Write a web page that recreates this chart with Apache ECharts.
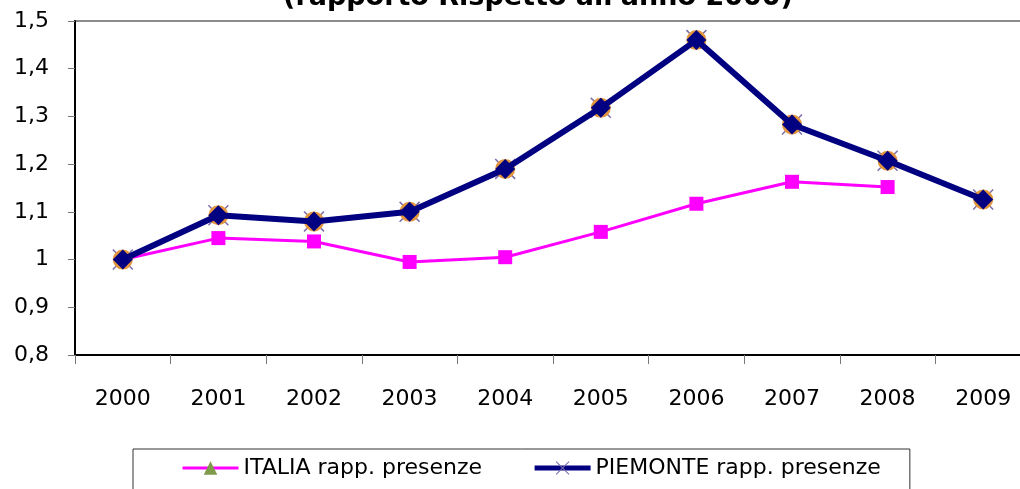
<!DOCTYPE html>
<html>
<head>
<meta charset="utf-8">
<script src="https://cdn.jsdelivr.net/npm/echarts@6/dist/echarts.min.js"></script>
<style>
html,body{margin:0;padding:0;background:#fff;}
#chart{width:1020px;height:489px;}
</style>
</head>
<body>
<div id="chart"></div>
<script>
// ---- data ----
var years = ['2000','2001','2002','2003','2004','2005','2006','2007','2008','2009'];
var italia = [1.0, 1.045, 1.038, 0.995, 1.005, 1.058, 1.117, 1.163, 1.152, null];
var piemonte = [1.0, 1.093, 1.080, 1.100, 1.190, 1.318, 1.460, 1.283, 1.207, 1.126];
var yTicks = {min: 0.8, max: 1.5, interval: 0.1};
var titleText = "(rapporto Rispetto all'anno 2000)";
var nameItalia = 'ITALIA rapp. presenze';
var namePiemonte = 'PIEMONTE rapp. presenze';

var FONT = 'DejaVu Sans';
var xPath = 'path://M0,1L1,0L10,9L19,0L20,1L11,10L20,19L19,20L10,11L1,20L0,19L9,10Z';

var chart = echarts.init(document.getElementById('chart'), null, {renderer: 'canvas'});
chart.setOption({
  animation: false,
  backgroundColor: '#ffffff',
  title: {
    text: titleText,
    left: 538, textAlign: 'center',
    top: -16, padding: 0,
    textStyle: {fontFamily: FONT, fontWeight: 'bold', fontSize: 27, color: '#000'}
  },
  grid: {
    left: 75, top: 21, bottom: 134, right: -11,
    show: true, borderColor: '#8c8c8c', borderWidth: 2,
    containLabel: false, outerBoundsMode: 'none'
  },
  legend: {
    data: [
      {name: nameItalia, lineStyle: {width: 3, color: '#FF00FF'}},
      {name: namePiemonte, lineStyle: {width: 5, color: '#000080'}}
    ],
    left: 133, top: 449,
    padding: [6, 29, 40, 48],
    itemWidth: 56, itemHeight: 17, itemGap: 50,
    borderColor: '#333', borderWidth: 1,
    textStyle: {fontFamily: FONT, fontSize: 22, color: '#000', lineHeight: 26},
    selectedMode: false
  },
  xAxis: {
    type: 'category',
    data: years,
    boundaryGap: true,
    axisLine: {lineStyle: {color: '#000', width: 2}},
    axisTick: {show: true, alignWithLabel: false, length: 9, lineStyle: {color: '#777', width: 1}},
    axisLabel: {fontFamily: FONT, fontSize: 22, color: '#000', margin: 33, interval: 0},
    splitLine: {show: false}
  },
  yAxis: {
    type: 'value',
    min: yTicks.min, max: yTicks.max, interval: yTicks.interval,
    axisLine: {show: true, lineStyle: {color: '#000', width: 2}},
    axisTick: {show: true, length: 7, lineStyle: {color: '#777', width: 1}},
    axisLabel: {
      fontFamily: FONT, fontSize: 22, color: '#000', margin: 26,
      formatter: function (v) { return String(Number(v.toFixed(1))).replace('.', ','); }
    },
    splitLine: {show: false}
  },
  series: [
    { // legend entry ITALIA
      name: nameItalia, type: 'line', data: [],
      symbol: 'triangle', symbolSize: 14,
      itemStyle: {color: '#7E9A4A'},
      lineStyle: {color: '#FF00FF', width: 3}
    },
    { // legend entry PIEMONTE
      name: namePiemonte, type: 'line', data: [],
      symbol: xPath, symbolSize: 14,
      itemStyle: {color: '#7B6BAA'},
      lineStyle: {color: '#000080', width: 5}
    },
    {
      name: 'ITALIA', type: 'line', data: italia,
      symbol: 'rect', symbolSize: 14,
      itemStyle: {color: '#FF00FF'},
      lineStyle: {color: '#FF00FF', width: 3},
      z: 2
    },
    {
      name: 'PIEMONTE x', type: 'line', data: piemonte,
      symbol: xPath, symbolSize: 21,
      itemStyle: {color: '#7B6BAA'},
      lineStyle: {opacity: 0, width: 0},
      z: 3
    },
    {
      name: 'PIEMONTE o', type: 'line', data: piemonte,
      symbol: 'circle', symbolSize: 20,
      itemStyle: {color: '#E3953E'},
      lineStyle: {opacity: 0, width: 0},
      z: 4
    },
    {
      name: 'PIEMONTE', type: 'line', data: piemonte,
      symbol: 'diamond', symbolSize: 20,
      itemStyle: {color: '#000080'},
      lineStyle: {color: '#000080', width: 6},
      z: 5
    }
  ]
});
</script>
</body>
</html>
